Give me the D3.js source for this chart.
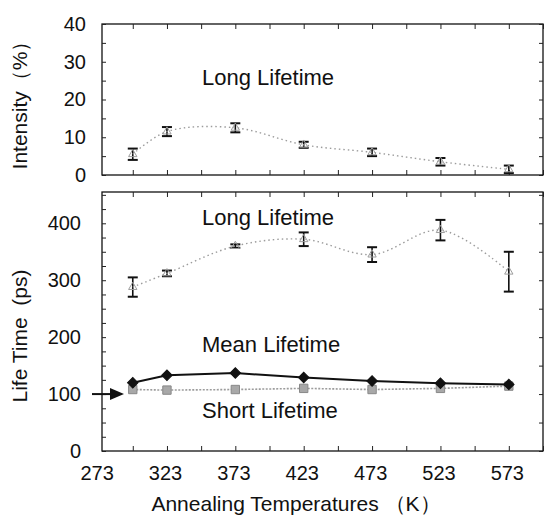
<!DOCTYPE html>
<html>
<head>
<meta charset="utf-8">
<script src="https://cdn.jsdelivr.net/npm/d3@7"></script>
<style>
  body { margin: 0; background: #fff; }
  text { font-family: "Liberation Sans", Arial, sans-serif; fill: #111; }
</style>
</head>
<body>
<svg width="546" height="517"></svg>
<script>
  'use strict';

  // data
  const temps = [298, 323, 373, 423, 473, 523, 573];
  const xTickLabels = [273, 323, 373, 423, 473, 523, 573];
  const intensityLong = [5.5, 11.5, 12.5, 8, 6, 3.5, 1.5];
  const intensityErr = [1.5, 1.2, 1.2, 0.8, 1, 1, 1];
  const lifeLong = [288, 312, 360, 372, 345, 388, 315];
  const lifeLongErr = [17, 5, 3, 12, 13, 18, 35];
  const lifeMean = [120, 133, 137, 129, 123, 119, 117];
  const lifeShort = [108, 107, 108, 110, 108, 110, 114];
  const intensityTicks = [0, 10, 20, 30, 40];
  const lifeTicks = [0, 100, 200, 300, 400];

  const svg = d3.select('svg');
  const grey = '#9c9c9c';

  const x = d3.scaleLinear().domain([275.5, 598]).range([102, 543]);
  const yTop = d3.scaleLinear().domain([0, 40]).range([175, 24]);
  const yBot = d3.scaleLinear().domain([0, 455]).range([451, 192]);

  const frameTicks = d3.range(298, 599, 25);

  function frame(y, minorLeft, minorRight) {
    const [b, t] = y.range();
    const g = svg.append('g');
    g.append('rect')
      .attr('x', x.range()[0]).attr('y', t)
      .attr('width', x.range()[1] - x.range()[0]).attr('height', b - t)
      .attr('fill', 'none').attr('stroke', '#111').attr('stroke-width', 1.3);
    g.append('g').attr('transform', `translate(0,${t})`)
      .call(d3.axisTop(x).tickValues(frameTicks).tickSizeInner(-5).tickSizeOuter(0).tickFormat(''));
    g.append('g').attr('transform', `translate(0,${b})`)
      .call(d3.axisBottom(x).tickValues(frameTicks).tickSizeInner(-5).tickSizeOuter(0).tickFormat(''));
    g.append('g').attr('transform', `translate(${x.range()[0]},0)`)
      .call(d3.axisLeft(y).tickValues(minorLeft).tickSizeInner(-4).tickSizeOuter(0).tickFormat(''));
    g.append('g').attr('transform', `translate(${x.range()[1]},0)`)
      .call(d3.axisRight(y).tickValues(minorRight).tickSizeInner(-4).tickSizeOuter(0).tickFormat(''));
    g.selectAll('.domain').remove();
    g.selectAll('.tick line').attr('stroke', '#222');
  }

  frame(yTop, d3.range(0, 41, 5), d3.range(0, 41, 5));
  frame(yBot, d3.range(0, 451, 25), d3.range(0, 451, 50));

  // tick labels
  const lab = (sel) => sel.selectAll('text').style('font-size', '20px').attr('fill', '#111');
  svg.append('g').attr('transform', 'translate(86,0)')
    .call(d3.axisLeft(yTop).tickValues(intensityTicks).tickSize(0).tickPadding(0))
    .call(g => g.select('.domain').remove()).call(lab);
  svg.append('g').attr('transform', 'translate(81,0)')
    .call(d3.axisLeft(yBot).tickValues(lifeTicks).tickSize(0).tickPadding(0))
    .call(g => g.select('.domain').remove()).call(lab);
  svg.append('g').attr('transform', 'translate(0,466)')
    .call(d3.axisBottom(x).tickValues(xTickLabels).tickSize(0).tickPadding(0))
    .call(g => g.select('.domain').remove()).call(lab)
    .selectAll('text').attr('dy', '0.71em').attr('x', -2);

  // axis titles
  svg.append('text').attr('x', 296).attr('y', 511).attr('text-anchor', 'middle')
    .style('font-size', '21px').text('Annealing Temperatures （K）');
  svg.append('text').attr('transform', 'translate(27,100) rotate(-90)').attr('text-anchor', 'middle')
    .style('font-size', '21px').text('Intensity（%）');
  svg.append('text').attr('transform', 'translate(27,336) rotate(-90)').attr('text-anchor', 'middle')
    .style('font-size', '21px').style('white-space', 'pre').text('Life Time  (ps)');

  // annotations
  const note = (tx, ty, s) => svg.append('text').attr('x', tx).attr('y', ty)
    .style('font-size', '22px').text(s);
  note(202, 85, 'Long Lifetime');
  note(202, 225, 'Long Lifetime');
  note(202, 352, 'Mean Lifetime');
  note(202, 418, 'Short Lifetime');

  // series helper
  function series(y, vals, opts) {
    const pts = temps.map((t, i) => [x(t), y(vals[i])]);
    svg.append('path')
      .attr('d', d3.line().curve(opts.curve || d3.curveLinear)(pts))
      .attr('fill', 'none').attr('stroke', opts.stroke)
      .attr('stroke-width', opts.width || 1.5)
      .attr('stroke-dasharray', opts.dash || null);
    svg.append('g').selectAll('path').data(pts).join('path')
      .attr('transform', d => `translate(${d[0]},${d[1]}) rotate(${opts.rotate || 0})`)
      .attr('d', d3.symbol().type(opts.symbol).size(opts.size))
      .attr('fill', opts.fill).attr('stroke', opts.mstroke).attr('stroke-width', 1);
  }

  function errBars(y, vals, errs) {
    const g = svg.append('g').attr('stroke', '#111').attr('stroke-width', 1.6);
    temps.forEach((t, i) => {
      const cx = x(t), lo = y(vals[i] - errs[i]), hi = y(vals[i] + errs[i]);
      g.append('line').attr('x1', cx).attr('x2', cx).attr('y1', lo).attr('y2', hi);
      g.append('line').attr('x1', cx - 5).attr('x2', cx + 5).attr('y1', lo).attr('y2', lo).attr('stroke-width', 2);
      g.append('line').attr('x1', cx - 5).attr('x2', cx + 5).attr('y1', hi).attr('y2', hi).attr('stroke-width', 2);
    });
  }

  // top panel: intensity of long lifetime
  errBars(yTop, intensityLong, intensityErr);
  series(yTop, intensityLong, {
    curve: d3.curveCatmullRom, stroke: grey, dash: '1.5,3', width: 1.4,
    symbol: d3.symbolTriangle, size: 30, fill: 'none', mstroke: grey
  });

  // bottom panel
  errBars(yBot, lifeLong, lifeLongErr);
  series(yBot, lifeLong, {
    curve: d3.curveCatmullRom, stroke: grey, dash: '1.5,3', width: 1.4,
    symbol: d3.symbolTriangle, size: 30, fill: 'none', mstroke: grey
  });
  series(yBot, lifeShort, {
    stroke: grey, dash: '2,1.5', width: 1.6,
    symbol: d3.symbolSquare, size: 70, rotate: 0, fill: '#a8a8a8', mstroke: '#888'
  });
  series(yBot, lifeMean, {
    stroke: '#111', width: 2,
    symbol: d3.symbolSquare, size: 55, rotate: 45, fill: '#111', mstroke: '#111'
  });

  // arrow pointing at 100 ps
  const ay = yBot(100);
  svg.append('line').attr('x1', 92).attr('x2', 112).attr('y1', ay).attr('y2', ay)
    .attr('stroke', '#111').attr('stroke-width', 2);
  svg.append('path').attr('d', `M110,${ay - 6}L124,${ay}L110,${ay + 6}Z`).attr('fill', '#111');
</script>
</body>
</html>
